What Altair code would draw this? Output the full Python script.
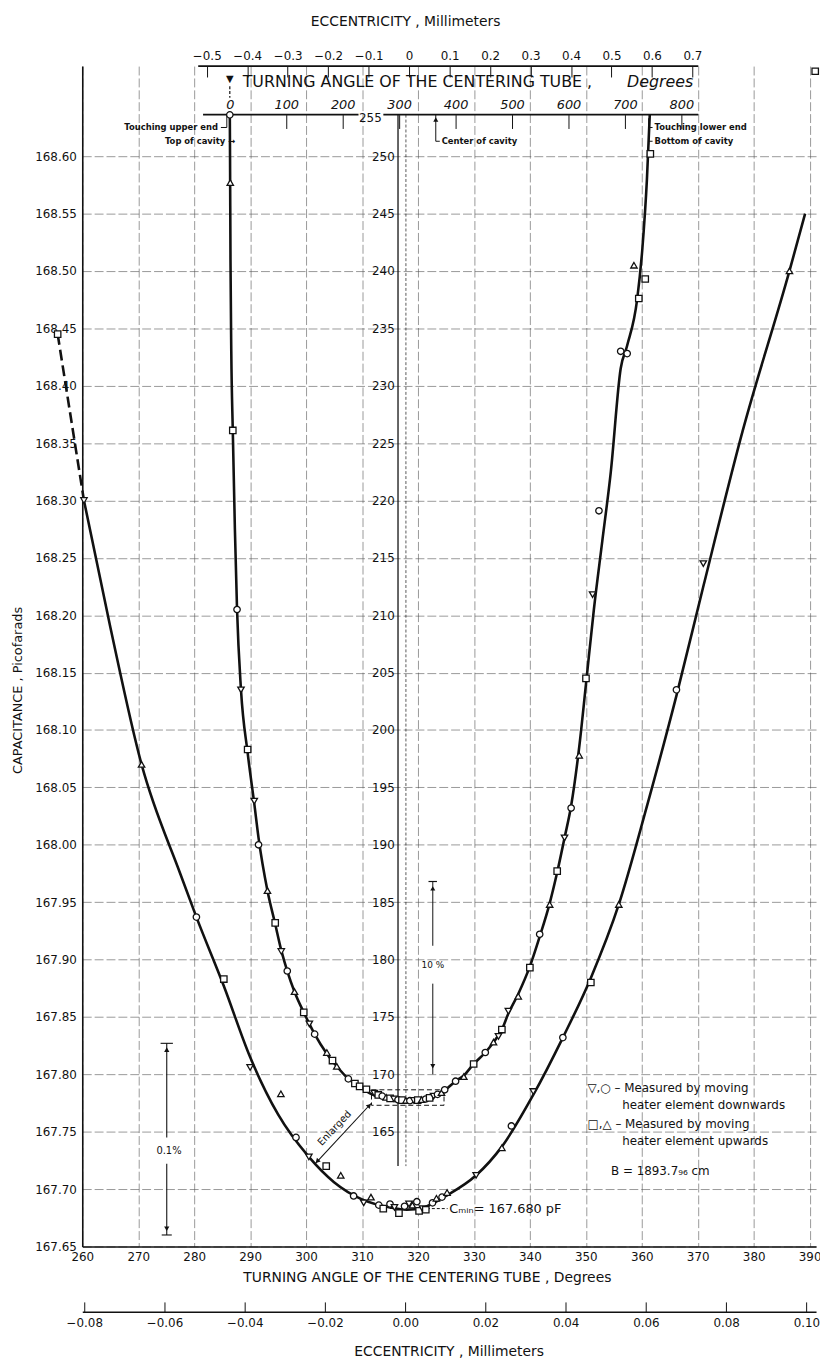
import altair as alt
import pandas as pd

W, H = 741, 1192

# ---------------- scales / ticks ----------------
DEG_DOMAIN = [260.0, 391.15]          # enlarged scale, turning angle (deg)
CAP_DOMAIN = [167.65, 168.6785]       # enlarged scale, capacitance (pF)
ANG_DOMAIN = [-261.4, 1038.6]         # full-range turning angle (deg)
ICAP_DOMAIN = [155.0, 257.85]         # full-range capacitance (pF)
TOP_ECC_DOMAIN = [-0.8077, 1.0054]
BOT_ECC_DOMAIN = [-0.0805, 0.1024]

X_TICKS = [260, 270, 280, 290, 300, 310, 320, 330, 340, 350, 360, 370, 380, 390]
Y_TICKS = [167.65, 167.70, 167.75, 167.80, 167.85, 167.90, 167.95, 168.00, 168.05, 168.10,
           168.15, 168.20, 168.25, 168.30, 168.35, 168.40, 168.45, 168.50, 168.55, 168.60]
ANG_TICKS = [0, 100, 200, 300, 400, 500, 600, 700, 800]
ICAP_TICKS = [165, 170, 175, 180, 185, 190, 195, 200, 205, 210, 215, 220, 225, 230,
              235, 240, 245, 250]
TOP_ECC_TICKS = [-0.5, -0.4, -0.3, -0.2, -0.1, 0.0, 0.1, 0.2, 0.3, 0.4, 0.5, 0.6, 0.7]
BOT_ECC_TICKS = [-0.08, -0.06, -0.04, -0.02, 0.0, 0.02, 0.04, 0.06, 0.08, 0.10]

# ---------------- enlarged curve ----------------
OUTER_LINE_DEG = [260.3, 265.0, 270.6, 277.5, 280.4, 285.3, 290.0, 295.0, 300.5, 305.0,
                  310.0, 315.0, 318.0, 321.0, 325.0, 330.4, 335.0, 340.6, 345.9, 350.9,
                  355.9, 361.0, 366.2, 371.0, 378.0, 386.4, 389.2]
OUTER_LINE_CAP = [168.300, 168.190, 168.070, 167.975, 167.937, 167.877, 167.815, 167.765, 167.728, 167.706,
                  167.691, 167.684, 167.682, 167.684, 167.694, 167.712, 167.737, 167.782, 167.832, 167.884,
                  167.948, 168.035, 168.130, 168.225, 168.360, 168.500, 168.550]
OUTER_DASH_DEG = [255.6, 260.3]
OUTER_DASH_CAP = [168.445, 168.300]

OUTER_PT_DEG = [255.6, 260.3, 270.6, 280.4, 285.3, 290.0, 295.5, 298.2, 300.5, 303.6,
                306.2, 308.5, 310.3, 311.6, 313.0, 313.8, 315.0, 315.8, 316.6, 317.6,
                318.4, 319.0, 319.8, 320.2, 320.8, 321.4, 322.6, 323.3, 324.3, 325.2,
                330.4, 335.0, 336.7, 340.6, 345.9, 350.9, 355.9, 366.2, 371.0, 386.4,
                391.0]
OUTER_PT_CAP = [168.445, 168.300, 168.070, 167.937, 167.883, 167.806, 167.783, 167.745, 167.728, 167.720,
                167.712, 167.694, 167.688, 167.693, 167.686, 167.683, 167.687, 167.684, 167.679, 167.685,
                167.687, 167.686, 167.689, 167.681, 167.683, 167.682, 167.688, 167.692, 167.693, 167.697,
                167.712, 167.736, 167.755, 167.785, 167.832, 167.880, 167.948, 168.135, 168.245, 168.500,
                168.674]
OUTER_PT_SYM = ['s', 'd', 'u', 'o', 's', 'd', 'u', 'o', 'd', 's',
                'u', 'o', 'd', 'u', 'o', 's', 'o', 'd', 's', 'o',
                'd', 'u', 'o', 's', 'd', 's', 'o', 'u', 'o', 'u',
                'd', 'u', 'o', 'd', 'o', 's', 'u', 'o', 'd', 'u',
                's']

# ---------------- full-range curve ----------------
INNER_LINE_ANG = [0, 0.4, 1.2, 2.6, 5.3, 9.0, 12.8, 19.8, 31.6, 43.3,
                  50.9, 66.7, 80.4, 91.2, 101.8, 114.6, 131, 140.9, 150.3, 171.9,
                  189.5, 210, 230, 250, 275, 300, 320, 340, 360, 380.7,
                  400, 414.6, 432, 452.6, 467.2, 482, 493.5, 511, 531.6, 549,
                  566.7, 580, 593, 604.7, 619, 631, 645, 660, 675, 692.5,
                  704, 721.6, 731, 739, 744]
INNER_LINE_CAP = [253.6, 250, 241, 233, 226, 217.5, 210.5, 203.5, 198.0, 193.6,
                  190.6, 186.0, 183.1, 180.8, 179.0, 177.2, 175.4, 174.4, 173.5, 171.8,
                  170.7, 169.6, 168.9, 168.3, 167.9, 167.72, 167.68, 167.75, 168.0, 168.6,
                  169.4, 169.9, 170.9, 171.9, 172.8, 173.9, 175.3, 177.0, 179.4, 182.0,
                  184.9, 187.6, 190.6, 193.4, 198.5, 204.0, 210.5, 216.5, 222.5, 231.5,
                  233.5, 237.5, 242.0, 248.0, 253.6]

INNER_PT_ANG = [0, 0.8, 5.3, 12.8, 19.8, 31.6, 43.3, 50.9, 66.7, 80.4,
                91.2, 101.8, 114.6, 131, 140.9, 150.3, 171.9, 181.9, 189.5, 210,
                221.6, 230, 242,
                256, 263, 270, 277, 284, 291, 298, 305, 312, 319,
                326, 333, 340, 347, 354, 361, 368, 375,
                380.7, 400, 414.6, 432, 452.6, 467.2, 476, 482, 493.5,
                511, 531.6, 549, 566.7, 580, 593, 604.7, 619, 631, 642.7,
                654, 692.5, 704, 716, 724.6, 736, 745]
INNER_PT_CAP = [253.6, 247.7, 226.1, 210.5, 203.5, 198.3, 193.8, 190.0, 186.0, 183.2,
                180.7, 179.0, 177.2, 175.4, 174.4, 173.5, 171.9, 171.2, 170.7, 169.6,
                169.2, 168.95, 168.7,
                168.35, 168.2, 168.1, 168.0, 167.9, 167.85, 167.78, 167.75, 167.72, 167.7,
                167.72, 167.75, 167.8, 167.85, 167.95, 168.1, 168.25, 168.4,
                168.65, 169.4, 169.8, 170.9, 171.9, 172.8, 173.3, 173.9, 175.5,
                176.8, 179.3, 182.2, 184.8, 187.7, 190.6, 193.2, 197.8, 204.5, 211.8,
                219.1, 233.0, 232.8, 240.5, 237.6, 239.3, 250.2]
INNER_PT_SYM = ['o', 'u', 's', 'o', 'd', 's', 'd', 'o', 'u', 's',
                'd', 'o', 'u', 's', 'd', 'o', 'u', 's', 'u', 'o',
                's', 's', 's',
                'd', 's', 'o', 'u', 's', 'd', 'o', 's', 'u', 'o',
                'd', 's', 'u', 'o', 's', 'd', 'o', 'u',
                'o', 'o', 'u', 's', 'o', 'u', 'd', 's', 'd',
                'u', 's', 'o', 'u', 's', 'd', 'o', 'u', 's', 'd',
                'o', 'o', 'o', 'u', 's', 's', 's']

SHAPES = {'o': 'circle', 's': 'square', 'u': 'triangle-up', 'd': 'triangle-down'}

# ---------------- annotation text ----------------
LEG_TEXT = ["\u25bd,\u25cb \u2013 Measured by moving", "heater element downwards",
            "\u25a1,\u25b3 \u2013 Measured by moving", "heater element upwards",
            "B = 1893.7\u2089\u2086 cm"]
LEG_DEG = [350.3, 356.5, 350.3, 356.5, 354.5]
LEG_CAP = [167.788, 167.773, 167.757, 167.742, 167.716]

FONT = "DejaVu Sans"
INK = "#111111"

GRID = dict(grid=True, gridColor="#555555", gridWidth=0.6, gridDash=[9, 3])

MAIN_X_AXIS = alt.Axis(orient="bottom", values=X_TICKS, ticks=False, labelPadding=5,
                       labelFontSize=12, domainWidth=1.6, labelFlush=False, labelOverlap=False,
                       title="TURNING ANGLE OF THE CENTERING TUBE , Degrees",
                       titleFontSize=14, titleFontWeight="normal", titleX=348, titleY=31,
                       titleAlign="center", titleBaseline="middle", **GRID)
MAIN_Y_AXIS = alt.Axis(orient="left", values=Y_TICKS, format=".2f", ticks=False, labelPadding=6,
                       labelFontSize=12, domainWidth=1.6, labelFlush=False, labelOverlap=False,
                       title="CAPACITANCE , Picofarads", titleFontSize=13, titleFontWeight="normal",
                       titleX=-65, titleY=630, titleAngle=270, titleAlign="center",
                       titleBaseline="middle", **GRID)
INNER_X_AXIS = alt.Axis(orient="bottom", offset=-(H - 49), values=ANG_TICKS, domain=False,
                        ticks=True, tickSize=14, tickWidth=1, labelBaseline="bottom",
                        labelPadding=-17, labelFontSize=13, labelFontStyle="italic",
                        labelFlush=False, labelOverlap=False, grid=False, title=None)
INNER_Y_AXIS = alt.Axis(orient="left", offset=-319, values=ICAP_TICKS, domain=False, ticks=False,
                        labelPadding=4, labelFontSize=12, labelFlush=False, labelOverlap=False,
                        grid=False, title=None)
TOP_ECC_AXIS = alt.Axis(orient="bottom", offset=-H, values=TOP_ECC_TICKS, domain=False, ticks=True,
                        tickSize=11, tickWidth=1, labelBaseline="bottom", labelPadding=-15,
                        labelFontSize=12, labelFlush=False, labelOverlap=False,
                        labelExpr="datum.value == 0 ? '0' : format(datum.value, '.1f')",
                        grid=False, title="ECCENTRICITY , Millimeters", titleFontSize=14,
                        titleFontWeight="normal", titleX=326, titleY=-45, titleAlign="center",
                        titleBaseline="middle")
BOT_ECC_AXIS = alt.Axis(orient="top", offset=-1258, values=BOT_ECC_TICKS, format=".2f",
                        domain=True, domainWidth=1.5, ticks=True, tickSize=10, tickWidth=1,
                        labelBaseline="top", labelPadding=-16, labelFontSize=12, labelFlush=False,
                        labelOverlap=False, grid=False, title="ECCENTRICITY , Millimeters",
                        titleFontSize=14, titleFontWeight="normal", titleX=370, titleY=40,
                        titleAlign="center", titleBaseline="middle")


# every sub-layer of a group carries the same scale and axis so that they merge
def xm():
    return alt.X("deg:Q", scale=alt.Scale(domain=DEG_DOMAIN, nice=False, zero=False), axis=MAIN_X_AXIS)


def ym():
    return alt.Y("cap:Q", scale=alt.Scale(domain=CAP_DOMAIN, nice=False, zero=False), axis=MAIN_Y_AXIS)


def xi():
    return alt.X("ang:Q", scale=alt.Scale(domain=ANG_DOMAIN, nice=False, zero=False), axis=INNER_X_AXIS)


def yi():
    return alt.Y("icap:Q", scale=alt.Scale(domain=ICAP_DOMAIN, nice=False, zero=False), axis=INNER_Y_AXIS)


# ---------------- data frames ----------------
outer_line = pd.DataFrame({"deg": OUTER_LINE_DEG, "cap": OUTER_LINE_CAP})
outer_dash = pd.DataFrame({"deg": OUTER_DASH_DEG, "cap": OUTER_DASH_CAP})
outer_pts = pd.DataFrame({"deg": OUTER_PT_DEG, "cap": OUTER_PT_CAP,
                          "shape": [SHAPES[s] for s in OUTER_PT_SYM]})
inner_line = pd.DataFrame({"ang": INNER_LINE_ANG, "icap": INNER_LINE_CAP})
inner_pts = pd.DataFrame({"ang": INNER_PT_ANG, "icap": INNER_PT_CAP,
                          "shape": [SHAPES[s] for s in INNER_PT_SYM]})

main_rules = pd.DataFrame({
    "deg": [274.0, 275.1, 275.1, 274.2, 311.7],
    "deg2": [276.2, 275.1, 275.1, 276.0, 301.6],
    "cap": [167.827, 167.827, 167.722, 167.660, 167.775],
    "cap2": [167.827, 167.745, 167.660, 167.660, 167.722],
})
main_heads = pd.DataFrame({
    "deg": [275.1, 275.1, 311.3, 302.0],
    "cap": [167.8215, 167.6655, 167.7728, 167.7242],
    "shape": ["triangle-up", "triangle-down", "triangle-up", "triangle-up"],
    "angle": [0, 0, 43.5, 223.5],
})
cmin_leader = pd.DataFrame({"deg": [321.6], "deg2": [325.3], "cap": [167.683], "cap2": [167.683]})
legend_df = pd.DataFrame({"deg": LEG_DEG, "cap": LEG_CAP, "text": LEG_TEXT})
small_main_text = pd.DataFrame({"deg": [275.5], "cap": [167.7335], "text": ["0.1%"]})
cmin_text = pd.DataFrame({"deg": [325.6], "cap": [167.683], "text": ["C\u2098\u1d62\u2099= 167.680 pF"]})
enl_text = pd.DataFrame({"deg": [305.1], "cap": [167.753], "text": ["Enlarged"]})

inner_rules = pd.DataFrame({
    "ang":   [-47.4, 272.0, -56.0, 298.0, -15.8, -5.3, 364.9, 364.9, 742.1, 742.1, 742.1, 352.0, 359.6, 359.6],
    "ang2":  [228.0, 830.0, 830.0, 298.0, -5.3, -5.3, 364.9, 372.0, 742.1, 749.0, 749.0, 367.0, 359.6, 359.6],
    "icap":  [253.62, 253.62, 257.85, 253.62, 252.5, 252.5, 253.6, 251.3, 253.3, 252.5, 251.3, 186.8, 186.8, 177.9],
    "icap2": [253.62, 253.62, 257.85, 162.0, 252.5, 253.6, 251.3, 251.3, 251.0, 252.5, 251.3, 186.8, 181.2, 170.0],
    "w":     [1.8, 1.8, 1.8, 1.3, 1.0, 1.0, 1.0, 1.0, 1.0, 1.0, 1.0, 1.2, 1.0, 1.0],
})
inner_dash = pd.DataFrame({"ang": [0.0, 312.0], "ang2": [0.0, 312.0],
                           "icap": [256.1, 253.62], "icap2": [255.1, 162.0],
                           "w": [1.2, 0.7]})
inner_heads = pd.DataFrame({"ang": [359.6, 359.6, 364.9], "icap": [186.2, 170.7, 253.2],
                            "shape": ["triangle-up", "triangle-down", "triangle-up"]})
box_df = pd.DataFrame({"ang": [251.0], "ang2": [379.5], "icap": [167.3], "icap2": [168.65]})
right_labels = pd.DataFrame({"ang": [-21.0, 9.5], "icap": [252.5, 251.3],
                             "text": ["Touching upper end", "Top of cavity \u2192"]})
left_labels = pd.DataFrame({"ang": [375.4, 752.6, 752.6], "icap": [251.3, 252.5, 251.3],
                            "text": ["Center of cavity", "Touching lower end", "Bottom of cavity"]})
label255 = pd.DataFrame({"ang": [249.0], "icap": [253.3], "text": ["255"]})
start_mark = pd.DataFrame({"ang": [0.0], "icap": [256.7], "text": ["\u25bc"]})
pct10 = pd.DataFrame({"ang": [359.6], "icap": [179.5], "text": ["10 %"]})
inner_title = pd.DataFrame({"ang": [22.8], "icap": [256.47],
                            "text": ["TURNING ANGLE OF THE CENTERING TUBE ,"]})
inner_title2 = pd.DataFrame({"ang": [821.0], "icap": [256.47], "text": ["Degrees"]})

top_ecc_df = pd.DataFrame({"e": TOP_ECC_TICKS})
bot_ecc_df = pd.DataFrame({"eb": BOT_ECC_TICKS})

# ---------------- enlarged-scale group ----------------
PT = dict(filled=True, fill="white", stroke=INK, strokeWidth=1.3, size=42, opacity=1)

g_main = alt.layer(
    alt.Chart(outer_line).mark_line(interpolate="monotone", color=INK, strokeWidth=2.6)
    .encode(x=xm(), y=ym()),
    alt.Chart(outer_dash).mark_line(color=INK, strokeWidth=2.6, strokeDash=[11, 5])
    .encode(x=xm(), y=ym()),
    alt.Chart(main_rules).mark_rule(color=INK, strokeWidth=1.1)
    .encode(x=xm(), x2="deg2:Q", y=ym(), y2="cap2:Q"),
    alt.Chart(cmin_leader).mark_rule(color=INK, strokeWidth=1, strokeDash=[3, 2])
    .encode(x=xm(), x2="deg2:Q", y=ym(), y2="cap2:Q"),
    alt.Chart(main_heads).mark_point(filled=True, color=INK, size=28, opacity=1)
    .encode(x=xm(), y=ym(), shape=alt.Shape("shape:N", scale=None),
            angle=alt.Angle("angle:Q", scale=None)),
    alt.Chart(outer_pts).mark_point(**PT)
    .encode(x=xm(), y=ym(), shape=alt.Shape("shape:N", scale=None)),
    alt.Chart(legend_df).mark_text(align="left", baseline="middle", fontSize=12, font=FONT, color=INK)
    .encode(x=xm(), y=ym(), text="text:N"),
    alt.Chart(small_main_text).mark_text(align="center", baseline="middle", fontSize=10, font=FONT, color=INK)
    .encode(x=xm(), y=ym(), text="text:N"),
    alt.Chart(cmin_text).mark_text(align="left", baseline="middle", fontSize=13, font=FONT, color=INK)
    .encode(x=xm(), y=ym(), text="text:N"),
    alt.Chart(enl_text).mark_text(align="center", baseline="middle", fontSize=10, font=FONT,
                                  color=INK, angle=313.5)
    .encode(x=xm(), y=ym(), text="text:N"),
)

# ---------------- full-range group ----------------
g_inner = alt.layer(
    alt.Chart(inner_line).mark_line(interpolate="monotone", color=INK, strokeWidth=2.6)
    .encode(x=xi(), y=yi()),
    alt.Chart(inner_rules).mark_rule(color=INK)
    .encode(x=xi(), x2="ang2:Q", y=yi(), y2="icap2:Q",
            strokeWidth=alt.StrokeWidth("w:Q", scale=None)),
    alt.Chart(inner_dash).mark_rule(color=INK, strokeDash=[3, 2])
    .encode(x=xi(), x2="ang2:Q", y=yi(), y2="icap2:Q",
            strokeWidth=alt.StrokeWidth("w:Q", scale=None)),
    alt.Chart(box_df).mark_rect(fillOpacity=0, stroke=INK, strokeWidth=1, strokeDash=[5, 3])
    .encode(x=xi(), x2="ang2:Q", y=yi(), y2="icap2:Q"),
    alt.Chart(inner_heads).mark_point(filled=True, color=INK, size=26, opacity=1)
    .encode(x=xi(), y=yi(), shape=alt.Shape("shape:N", scale=None)),
    alt.Chart(inner_pts).mark_point(**PT)
    .encode(x=xi(), y=yi(), shape=alt.Shape("shape:N", scale=None)),
    alt.Chart(right_labels).mark_text(align="right", baseline="middle", fontSize=8.5,
                                      fontWeight="bold", font=FONT, color=INK)
    .encode(x=xi(), y=yi(), text="text:N"),
    alt.Chart(left_labels).mark_text(align="left", baseline="middle", fontSize=8.5,
                                     fontWeight="bold", font=FONT, color=INK)
    .encode(x=xi(), y=yi(), text="text:N"),
    alt.Chart(label255).mark_text(align="center", baseline="middle", fontSize=12, font=FONT, color=INK)
    .encode(x=xi(), y=yi(), text="text:N"),
    alt.Chart(start_mark).mark_text(align="center", baseline="middle", fontSize=10, font=FONT, color=INK)
    .encode(x=xi(), y=yi(), text="text:N"),
    alt.Chart(pct10).mark_text(align="center", baseline="middle", fontSize=9, font=FONT, color=INK)
    .encode(x=xi(), y=yi(), text="text:N"),
    alt.Chart(inner_title).mark_text(align="left", baseline="middle", fontSize=16, font=FONT, color=INK)
    .encode(x=xi(), y=yi(), text="text:N"),
    alt.Chart(inner_title2).mark_text(align="right", baseline="middle", fontSize=16, font=FONT,
                                      fontStyle="italic", color=INK)
    .encode(x=xi(), y=yi(), text="text:N"),
)

# ---------------- eccentricity scales ----------------
g_top_ecc = alt.Chart(top_ecc_df).mark_point(opacity=0).encode(
    x=alt.X("e:Q", scale=alt.Scale(domain=TOP_ECC_DOMAIN, nice=False, zero=False), axis=TOP_ECC_AXIS))
g_bot_ecc = alt.Chart(bot_ecc_df).mark_point(opacity=0).encode(
    x=alt.X("eb:Q", scale=alt.Scale(domain=BOT_ECC_DOMAIN, nice=False, zero=False), axis=BOT_ECC_AXIS))

chart = (
    alt.layer(g_main, g_inner, g_top_ecc, g_bot_ecc)
    .resolve_scale(x="independent", y="independent")
    .properties(width=W, height=H, autosize=alt.AutoSizeParams(type="none"),
                padding={"left": 75, "top": 52, "right": 4, "bottom": 108})
    .configure_view(stroke=None)
    .configure_axis(labelFont=FONT, titleFont=FONT, labelColor=INK, titleColor=INK,
                    domainColor=INK, tickColor=INK)
)

chart.save("out.html", embed_options={"renderer": "svg", "actions": False})
